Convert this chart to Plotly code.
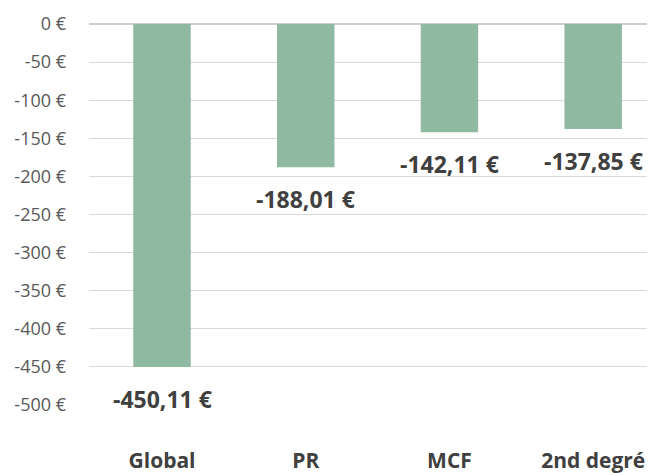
import plotly.graph_objects as go

# Data
categories = ["Global", "PR", "MCF", "2nd degré"]
values = [-450.11, -188.01, -142.11, -137.85]
value_labels = ["-450,11 €", "-188,01 €", "-142,11 €", "-137,85 €"]
y_ticks = [0, -50, -100, -150, -200, -250, -300, -350, -400, -450, -500]
y_tick_labels = ["0 €", "-50 €", "-100 €", "-150 €", "-200 €", "-250 €",
                 "-300 €", "-350 €", "-400 €", "-450 €", "-500 €"]

fig = go.Figure()

fig.add_trace(go.Bar(
    x=categories,
    y=values,
    width=0.4,
    marker=dict(color="#8fb9a0", line=dict(width=0)),
    hoverinfo="skip",
))

# value labels placed under each bar
for cat, val, lab in zip(categories, values, value_labels):
    fig.add_annotation(
        x=cat, y=val, text="<b>" + lab + "</b>",
        showarrow=False, yanchor="top", yshift=-14,
        font=dict(size=23, color="#404040"),
    )

# the page body has an 8px margin, so the figure is 8px smaller
fig.update_layout(
    width=647, height=465,
    margin=dict(l=81, r=0, t=16, b=68),
    paper_bgcolor="white", plot_bgcolor="white",
    font=dict(family="Open Sans", color="#595959"),
    showlegend=False,
)

fig.update_xaxes(
    range=[-0.508, 3.43],
    automargin=False,
    showgrid=False, zeroline=False, showline=False,
    tickfont=dict(size=21, color="#404040"),
    ticklabelstandoff=41,
    tickvals=categories,
    ticktext=["<b>" + c + "</b>" for c in categories],
)

fig.update_yaxes(
    range=[-500, 0],
    automargin=False,
    tickvals=y_ticks, ticktext=y_tick_labels,
    showgrid=True, gridcolor="#d9d9d9", gridwidth=1,
    zeroline=True, zerolinecolor="#cfcfcf", zerolinewidth=1.5,
    showline=False,
    tickfont=dict(size=18, color="#595959"),
    ticklabelstandoff=22,
)

fig.write_html("out.html")
